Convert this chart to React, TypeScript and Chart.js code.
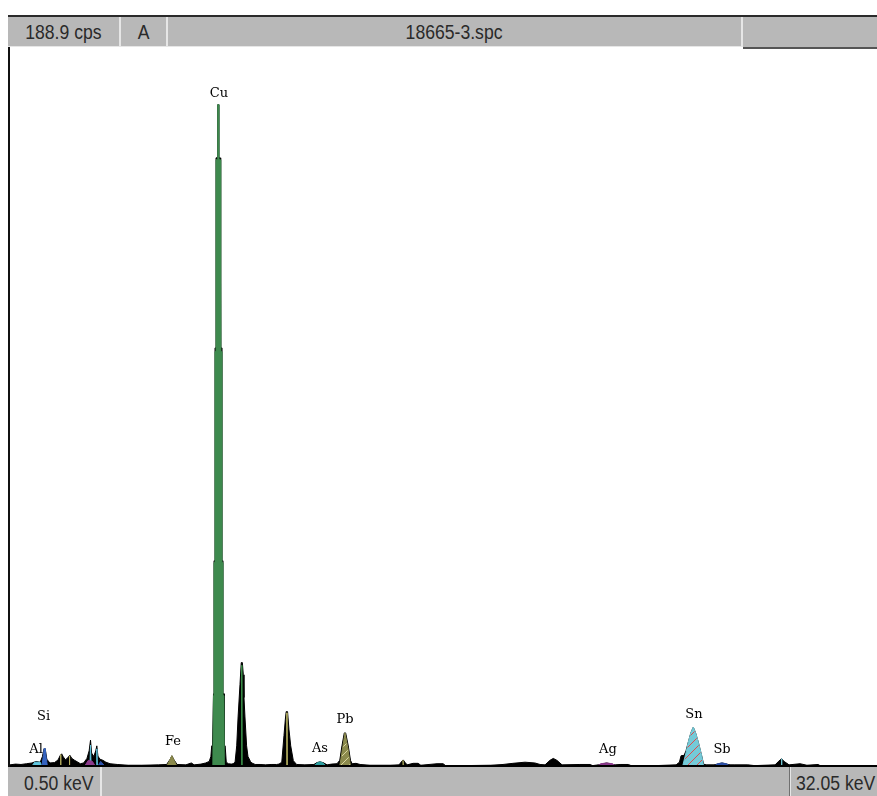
import React, { useEffect, useRef } from "react";
import { Chart, registerables } from "chart.js";

Chart.register(...registerables);

// ---- axis range ----
const X_MIN_KEV = 0.5;
const X_MAX_KEV = 32.05;
const Y_MAX_CPS = 188.9;

// ---- header / footer texts ----
const headerCps = "188.9 cps";
const headerMode = "A";
const headerFile = "18665-3.spc";
const footerLeft = "0.50 keV";
const footerRight = "32.05 keV";

// ---- total spectrum (black) ----
const spectrumKeV = [
  0.5, 0.7, 0.9, 1.1, 1.3, 1.45, 1.6, 1.68, 1.74, 1.78, 1.84, 1.95, 2.12, 2.25, 2.33, 2.38, 2.44, 2.52, 2.6, 2.68,
  2.75, 2.85, 2.97, 3.06, 3.18, 3.3, 3.38, 3.43, 3.47, 3.55, 3.62, 3.66, 3.7, 3.77, 3.88, 3.99, 4.14, 4.4, 4.8, 5.3,
  5.9, 6.2, 6.33, 6.39, 6.47, 6.58, 6.9, 7.1, 7.2, 7.45, 7.62, 7.75, 7.81, 7.84, 7.87, 7.905, 7.905, 7.924, 7.924, 7.96,
  7.96, 7.997, 7.997, 8.06, 8.06, 8.095, 8.095, 8.15, 8.15, 8.175, 8.175, 8.205, 8.205, 8.241, 8.241, 8.294, 8.294, 8.33, 8.37, 8.45,
  8.55, 8.62, 8.69, 8.75, 8.8, 8.87, 8.915, 8.955, 8.99, 9.015, 9.05, 9.11, 9.16, 9.25, 9.3, 9.42, 9.6, 9.8, 10.0, 10.2,
  10.29, 10.39, 10.47, 10.52, 10.55, 10.6, 10.65, 10.715, 10.81, 10.93, 11.23, 11.56, 11.67, 11.78, 11.89, 12.04, 12.2, 12.4, 12.5, 12.58,
  12.665, 12.715, 12.81, 12.89, 12.95, 13.09, 13.24, 13.6, 14.33, 14.66, 14.73, 14.81, 14.87, 14.95, 15.17, 15.35, 15.45, 16.04, 16.26, 16.35,
  17.0, 18.0, 18.44, 18.8, 19.24, 19.6, 19.79, 19.97, 20.15, 20.27, 20.4, 20.59, 21.24, 21.61, 21.7, 21.91, 22.21, 22.52, 22.7, 23.0,
  23.1, 24.0, 24.74, 24.86, 24.92, 25.03, 25.1, 25.18, 25.28, 25.365, 25.445, 25.55, 25.67, 25.74, 25.83, 26.12, 26.41, 26.7, 26.85, 27.35,
  27.6, 28.34, 28.48, 28.58, 28.67, 28.85, 29.25, 29.5, 29.91, 30.0, 32.05,
];
const spectrumCps = [
  0.3, 0.5, 0.4, 0.6, 0.8, 1.2, 1.0, 2.5, 4.6, 4.6, 1.8, 0.8, 0.9, 1.6, 2.8, 3.2, 2.4, 1.6, 2.2, 2.8,
  2.0, 1.5, 1.0, 0.6, 0.8, 2.0, 4.0, 6.8, 3.4, 2.5, 4.0, 5.3, 2.6, 1.8, 1.5, 1.0, 0.6, 0.4, 0.2, 0.2,
  0.3, 0.4, 1.8, 2.7, 1.6, 0.4, 0.3, 0.8, 0.3, 0.5, 0.8, 1.2, 2.5, 5.3, 5.3, 19, 19, 19, 54, 54,
  110, 110, 160, 160, 174, 174, 160, 160, 157, 157, 110, 110, 54, 54, 19, 19, 5.3, 5.3, 1, 0.6,
  0.5, 0.6, 1, 5.3, 12.9, 21.5, 27.2, 27.2, 24, 18, 12.9, 5.3, 2.5, 1.2, 0.8, 0.4, 0.4, 0.3, 0.4, 0.4,
  0.5, 1.0, 8, 12.3, 14.3, 14.3, 9.7, 5.3, 1.4, 0.4, 0.3, 0.4, 0.9, 1.1, 0.9, 0.3, 0.5, 0.6, 1.5, 5.3,
  8.7, 8.7, 5.3, 1.5, 0.6, 0.7, 0.4, 0.2, 0.2, 0.3, 1.0, 1.6, 1.0, 0.3, 0.7, 0.7, 0.2, 0.6, 0.6, 0.1,
  0.1, 0.2, 0.4, 0.7, 1.0, 0.8, 0.4, 0.3, 1.5, 2.0, 1.5, 0.3, 0.4, 0.4, 0.1, 0.3, 0.8, 0.3, 0.4, 0.4,
  0.1, 0.1, 0.3, 1.0, 2.7, 2.8, 4, 6.2, 8.8, 10.2, 8.8, 6.2, 2.7, 0.5, 0.3, 0.3, 0.8, 0.3, 0.3, 0.3,
  0.1, 0.3, 1.3, 1.9, 1.2, 0.3, 0.6, 0.2, 0.4, 0, 0,
];

// ---- element components (coloured overlays) ----
const cuKaKeV = [7.88, 7.905, 7.924, 7.924, 7.96, 7.96, 7.997, 7.997, 8.06, 8.06, 8.095, 8.095, 8.15, 8.15, 8.175, 8.175, 8.205, 8.205, 8.241, 8.241, 8.285, 8.3];
const cuKaCps = [0, 18.5, 18.5, 53.5, 53.5, 109, 109, 159.5, 159.5, 174, 174, 159.5, 159.5, 156.5, 156.5, 109, 109, 53.5, 53.5, 18.5, 18.5, 0];
const cuKbKeV = [8.925, 8.935, 8.945];
const cuKbCps = [0, 26.5, 0];
const feKeV = [6.21, 6.39, 6.57];
const feCps = [0, 2.7, 0];
const pbLaKeV = [10.57, 10.578, 10.586];
const pbLaCps = [0, 14, 0];
const pbLbKeV = [12.5, 12.6, 12.69, 12.8, 12.89];
const pbLbCps = [0, 4.5, 8.7, 4.5, 0];
const pbLgKeV = [14.77, 14.8, 14.83];
const pbLgCps = [0, 1.5, 0];
const pbMKeV = [2.34, 2.345, 2.35, 2.66, 2.665, 2.67];
const pbMCps = [0, 3.0, 0, 0, 2.6, 0];
const asKeV = [11.56, 11.67, 11.78, 11.89, 12.0];
const asCps = [0, 0.8, 1.1, 0.8, 0];
const agKeV = [21.88, 22.0, 22.21, 22.42, 22.55];
const agCps = [0, 0.6, 0.8, 0.6, 0];
const snKaKeV = [24.98, 25.1, 25.18, 25.28, 25.365, 25.445, 25.55, 25.67, 25.74];
const snKaCps = [0, 3.5, 6.2, 8.8, 10.2, 8.8, 6.2, 2.7, 0];
const snKbKeV = [28.57, 28.578, 28.586];
const snKbCps = [0, 1.9, 0];
const snLKeV = [3.41, 3.43, 3.45, 3.64, 3.66, 3.68];
const snLCps = [0, 5.5, 0, 0, 4.5, 0];
const sbKeV = [26.12, 26.25, 26.41, 26.57, 26.7];
const sbCps = [0, 0.6, 0.8, 0.6, 0];
const sbLKeV = [3.7, 3.8, 3.95];
const sbLCps = [0, 1.2, 0];
const agLKeV = [3.22, 3.35, 3.5, 3.6];
const agLCps = [0, 1.5, 1.2, 0];
const alKeV = [1.66, 1.72, 1.74, 1.78, 1.82, 1.86];
const alCps = [0, 3.0, 4.6, 4.6, 2.0, 0];
const siKeV = [1.3, 1.4, 1.6, 1.65];
const siCps = [0, 1.0, 1.0, 0];

// ---- element labels ----
const labelNames = ["Cu", "Si", "Al", "Fe", "As", "Pb", "Ag", "Sn", "Sb"];
const labelKeV = [8.1, 1.72, 1.45, 6.43, 11.78, 12.69, 22.26, 25.39, 26.41];
const labelCps = [177, 12.9, 4.2, 6.3, 4.5, 12.1, 4.2, 13.4, 4.2];

const FONT_UI = '"Liberation Sans", Arial, sans-serif';

function makeHatch(bg: string, line: string, size: number, width: number) {
  const c = document.createElement("canvas");
  c.width = size;
  c.height = size;
  const g = c.getContext("2d")!;
  g.fillStyle = bg;
  g.fillRect(0, 0, size, size);
  g.strokeStyle = line;
  g.lineWidth = width;
  g.beginPath();
  g.moveTo(0, size);
  g.lineTo(size, 0);
  g.moveTo(-2, 2);
  g.lineTo(2, -2);
  g.moveTo(size - 2, size + 2);
  g.lineTo(size + 2, size - 2);
  g.stroke();
  return g.createPattern(c, "repeat") as CanvasPattern;
}

function pts(xs: number[], ys: number[]) {
  return xs.map((x, i) => ({ x, y: ys[i] }));
}

const labelPlugin = {
  id: "elementLabels",
  afterDatasetsDraw(chart: any) {
    const { ctx, scales } = chart;
    ctx.save();
    ctx.font = '13px "DejaVu Serif", "Liberation Serif", serif';
    ctx.fillStyle = "#000";
    ctx.textAlign = "center";
    ctx.textBaseline = "middle";
    labelNames.forEach((n, i) => {
      ctx.fillText(n, scales.x.getPixelForValue(labelKeV[i]), scales.y.getPixelForValue(labelCps[i]));
    });
    ctx.restore();
  },
};

function Txt({ children, origin }: { children: any; origin: string }) {
  return (
    <span style={{ display: "inline-block", transform: "scaleX(0.88)", transformOrigin: origin }}>{children}</span>
  );
}

export default function App() {
  const ref = useRef<HTMLCanvasElement>(null);

  useEffect(() => {
    const snHatch = makeHatch("#74cad8", "#e04a4a", 9, 1);
    const pbHatch = makeHatch("#8b8a4c", "#d9d6a0", 8, 1);

    const overlay = (xs: number[], ys: number[], color: any, border?: string) => ({
      data: pts(xs, ys),
      backgroundColor: color,
      borderColor: border || (typeof color === "string" ? color : "#000"),
      borderWidth: 1,
      fill: "origin",
      pointRadius: 0,
      tension: 0,
      order: 1,
    });

    const chart = new Chart(ref.current!, {
      type: "line",
      data: {
        datasets: [
          {
            data: pts(spectrumKeV, spectrumCps),
            backgroundColor: "#000",
            borderColor: "#000",
            borderWidth: 1,
            fill: "origin",
            pointRadius: 0,
            tension: 0,
            order: 10,
          },
          overlay(cuKaKeV, cuKaCps, "#3e8a4e"),
          overlay(cuKbKeV, cuKbCps, "#3e9a4e"),
          overlay(feKeV, feCps, "#8b8a4c"),
          overlay(pbLaKeV, pbLaCps, "#c9c36a"),
          overlay(pbLbKeV, pbLbCps, pbHatch, "#8b8a4c"),
          overlay(pbLgKeV, pbLgCps, "#9c9a55"),
          overlay(pbMKeV, pbMCps, "#b8b060"),
          overlay(asKeV, asCps, "#2e9ea0"),
          overlay(agKeV, agCps, "#8c3a8c"),
          overlay(agLKeV, agLCps, "#8c3a8c"),
          overlay(snKaKeV, snKaCps, snHatch, "#74cad8"),
          overlay(snKbKeV, snKbCps, "#74cad8"),
          overlay(snLKeV, snLCps, "#5ec4dc"),
          overlay(sbKeV, sbCps, "#2c50a8"),
          overlay(sbLKeV, sbLCps, "#2c50a8"),
          overlay(alKeV, alCps, "#3563c0"),
          overlay(siKeV, siCps, "#62c8e0"),
        ],
      },
      options: {
        responsive: false,
        animation: false,
        events: [],
        layout: { padding: 0 },
        scales: {
          x: { type: "linear", min: X_MIN_KEV, max: X_MAX_KEV, display: false },
          y: { type: "linear", min: 0, max: Y_MAX_CPS, display: false },
        },
        plugins: { legend: { display: false }, tooltip: { enabled: false } },
        elements: { point: { radius: 0 }, line: { tension: 0 } },
      },
      plugins: [labelPlugin],
    } as any);
    return () => chart.destroy();
  }, []);

  const abs = (l: number, t: number, w: number, h: number, extra: any = {}) => ({
    position: "absolute" as const,
    left: l,
    top: t,
    width: w,
    height: h,
    ...extra,
  });
  const txt = { fontFamily: FONT_UI, fontSize: 20, color: "#2a2a2a", whiteSpace: "nowrap" as const };

  return (
    <div style={{ position: "fixed", left: 0, top: 0, width: 877, height: 796, overflow: "hidden", background: "#fff" }}>
      {/* header */}
      <div style={abs(8, 15, 869, 2, { background: "#2a2a2a" })} />
      <div style={abs(8, 17, 869, 30, { background: "#b8b8b8" })} />
      <div style={abs(119, 17, 2, 30, { background: "#e6e6e6" })} />
      <div style={abs(166, 17, 2, 30, { background: "#e6e6e6" })} />
      <div style={abs(741, 17, 2, 30, { background: "#e6e6e6" })} />
      <div style={abs(8, 46, 735, 1, { background: "#e6e6e6" })} />
      <div style={abs(743, 47, 134, 2, { background: "#555" })} />
      <div style={abs(8, 17, 111, 30, { ...txt, lineHeight: "30px", textAlign: "center" })}>
        <Txt origin="center">{headerCps}</Txt>
      </div>
      <div style={abs(121, 17, 45, 30, { ...txt, lineHeight: "30px", textAlign: "center" })}>
        <Txt origin="center">{headerMode}</Txt>
      </div>
      <div style={abs(168, 17, 573, 30, { ...txt, lineHeight: "30px", textAlign: "center" })}>
        <Txt origin="center">{headerFile}</Txt>
      </div>

      {/* plot */}
      <div style={abs(8, 47, 2, 720, { background: "#111" })} />
      <canvas ref={ref} width={867} height={718} style={abs(10, 48, 867, 718)} />
      <div style={abs(10, 765, 867, 2, { background: "#000" })} />

      {/* footer */}
      <div style={abs(8, 767, 869, 29, { background: "#b8b8b8" })} />
      <div style={abs(100, 767, 2, 29, { background: "#e6e6e6" })} />
      <div style={abs(789, 767, 1, 29, { background: "#707070" })} />
      <div style={abs(790, 767, 1, 29, { background: "#e6e6e6" })} />
      <div style={abs(24, 770, 76, 26, { ...txt, lineHeight: "26px" })}>
        <Txt origin="left center">{footerLeft}</Txt>
      </div>
      <div style={abs(796, 770, 90, 26, { ...txt, lineHeight: "26px" })}>
        <Txt origin="left center">{footerRight}</Txt>
      </div>
    </div>
  );
}
